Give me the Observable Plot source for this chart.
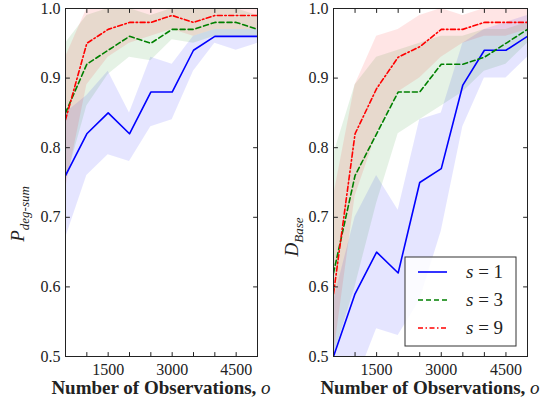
<!DOCTYPE html>
<html><head><meta charset="utf-8">
<script src="https://cdn.jsdelivr.net/npm/d3@7"></script>
<script src="https://cdn.jsdelivr.net/npm/@observablehq/plot@0.6"></script>
<style>
body{margin:0;background:#fff;}
#wrap{position:relative;width:547px;height:400px;display:flex;font-family:'Liberation Serif',serif;}
#wrap svg{overflow:visible;}
</style></head><body><div id="wrap"></div>
<script>
const obs = [500,1000,1500,2000,2500,3000,3500,4000,4500,5000];
const xTickLabels = [1500,3000,4500];
const xTicks = [1000,1500,2000,2500,3000,3500,4000,4500];
const yTicks = [0.5,0.6,0.7,0.8,0.9,1.0];
const seriesLabels = ["1","3","9"];

// Left panel: P_deg-sum
const degS1   = [0.76,0.82,0.85,0.82,0.88,0.88,0.94,0.96,0.96,0.96];
const degS1Lo = [0.67,0.76,0.79,0.78,0.83,0.84,0.91,0.95,0.94,0.95];
const degS1Hi = [0.85,0.875,0.91,0.85,0.93,0.92,0.96,0.97,0.97,0.97];
const degS3   = [0.85,0.92,0.94,0.96,0.95,0.97,0.97,0.98,0.98,0.97];
const degS3Lo = [0.75,0.86,0.905,0.93,0.925,0.955,0.95,0.96,0.96,0.96];
const degS3Hi = [0.95,0.99,1.0,1.0,0.99,1.0,1.0,1.0,1.0,0.99];
const degS9   = [0.84,0.95,0.97,0.98,0.98,0.99,0.98,0.99,0.99,0.99];
const degS9Lo = [0.74,0.89,0.93,0.95,0.96,0.97,0.96,0.97,0.97,0.97];
const degS9Hi = [0.93,1.0,1.0,1.0,1.0,1.0,1.0,1.0,1.0,1.0];

// Right panel: D_Base
const baseS1   = [0.50,0.59,0.65,0.62,0.75,0.77,0.89,0.94,0.94,0.96];
const baseS1Lo = [0.42,0.46,0.54,0.53,0.58,0.68,0.83,0.90,0.90,0.93];
const baseS1Hi = [0.58,0.70,0.76,0.71,0.84,0.85,0.95,0.97,0.98,0.99];
const baseS3   = [0.62,0.76,0.82,0.88,0.88,0.92,0.92,0.93,0.95,0.97];
const baseS3Lo = [0.50,0.60,0.72,0.82,0.84,0.86,0.88,0.91,0.92,0.95];
const baseS3Hi = [0.79,0.89,0.93,0.94,0.95,0.96,0.96,0.97,0.97,0.98];
const baseS9   = [0.59,0.82,0.885,0.93,0.945,0.97,0.97,0.98,0.98,0.98];
const baseS9Lo = [0.50,0.73,0.82,0.88,0.90,0.93,0.95,0.96,0.96,0.97];
const baseS9Hi = [0.73,0.89,0.96,0.97,0.99,1.0,0.99,1.0,1.0,1.0];

const colors = ["#0000ff","#008000","#ff0000"];
const dashes = [null,"5,3","5,2.5,1.5,2.5"];
const serif = "'Liberation Serif', serif";

function rows(mean, lo, hi) { return obs.map((o,i)=>({o, v:mean[i], lo:lo[i], hi:hi[i]})); }

const tickShape = {draw(ctx, l){ ctx.moveTo(0,0); ctx.lineTo(0,-l); }};
const ink = "#222";

function panel(series, width, marginLeft, marginRight) {
  const marks = [];
  series.forEach((d,i)=>marks.push(Plot.areaY(d, {x:"o", y1:"lo", y2:"hi", fill: colors[i], fillOpacity: 0.1, clip: true})));
  series.forEach((d,i)=>marks.push(Plot.lineY(d, {x:"o", y:"v", stroke: colors[i], strokeWidth: 1.6, strokeDasharray: dashes[i], clip: true})));
  marks.push(Plot.frame({stroke: ink}));
  marks.push(Plot.axisX({ticks: xTickLabels, anchor:"bottom", tickSize:0, tickPadding:7, label:null, tickFormat: d=>String(d), fill: ink, fontFamily: serif}));
  marks.push(Plot.axisY({ticks: yTicks, anchor:"left", tickSize:0, tickPadding:5, label:null, tickFormat: d3.format(".1f"), fill: ink, fontFamily: serif}));
  const tk = (data, opts) => Plot.vector(data, {...opts, anchor:"start", shape: tickShape, stroke: ink, strokeWidth: 1});
  marks.push(tk(xTicks, {x: d=>d, frameAnchor:"bottom", rotate:0, length: 4}));
  marks.push(tk(xTicks, {x: d=>d, frameAnchor:"top", rotate:180, length: 4}));
  marks.push(tk(yTicks, {y: d=>d, frameAnchor:"left", rotate:90, length: 4}));
  marks.push(tk(yTicks, {y: d=>d, frameAnchor:"right", rotate:-90, length: 4}));
  return Plot.plot({
    width, height: 400, marginLeft, marginRight, marginTop: 8, marginBottom: 44,
    style: {fontFamily: serif, fontSize: "16px", background: "transparent"},
    x: {domain: [500, 5000]},
    y: {domain: [0.5, 1.0]},
    marks
  });
}

function addLabels(svg, ymain, ysub, yx, yy, cx) {
  const s = d3.select(svg);
  const t = s.append("text").attr("transform", `translate(${yx},${yy}) rotate(-90)`)
    .attr("font-family", serif).attr("font-style","italic").attr("fill", ink);
  t.append("tspan").attr("font-size", 19).text(ymain);
  t.append("tspan").attr("font-size", 13).attr("dy", 5).text(ysub);
  const x = s.append("text").attr("x", cx).attr("y", 394).attr("text-anchor","middle")
    .attr("font-family", serif).attr("fill", ink).attr("font-size", 19);
  x.append("tspan").attr("font-weight","bold").text("Number of Observations, ");
  x.append("tspan").attr("font-style","italic").text("o");
}

const wrap = document.getElementById("wrap");
const left = panel([rows(degS1,degS1Lo,degS1Hi), rows(degS3,degS3Lo,degS3Hi), rows(degS9,degS9Lo,degS9Hi)], 270, 65, 13);
addLabels(left, "P", "deg-sum", 24, 214, 161);
const right = panel([rows(baseS1,baseS1Lo,baseS1Hi), rows(baseS3,baseS3Lo,baseS3Hi), rows(baseS9,baseS9Lo,baseS9Hi)], 277, 63, 20);
addLabels(right, "D", "Base", 28, 237, 160);
wrap.appendChild(left);
wrap.appendChild(right);

// Legend
const lg = d3.select(wrap).append("svg").attr("width", 114).attr("height", 92)
  .style("position","absolute").style("left","404px").style("top","256px");
lg.append("rect").attr("x",1).attr("y",1).attr("width",111).attr("height",89)
  .attr("fill","#fff").attr("fill-opacity",0.85).attr("stroke","#333").attr("stroke-width",1);
seriesLabels.forEach((lab,i)=>{
  const y = 16 + i*28;
  lg.append("line").attr("x1",14).attr("x2",43).attr("y1",y).attr("y2",y)
    .attr("stroke",colors[i]).attr("stroke-width",1.6).attr("stroke-dasharray",dashes[i]);
  const t = lg.append("text").attr("x",62).attr("y",y+6).attr("font-family", serif)
    .attr("font-size",19).attr("fill",ink);
  t.append("tspan").attr("font-style","italic").text("s");
  t.append("tspan").text(" = " + lab);
});
</script></body></html>
